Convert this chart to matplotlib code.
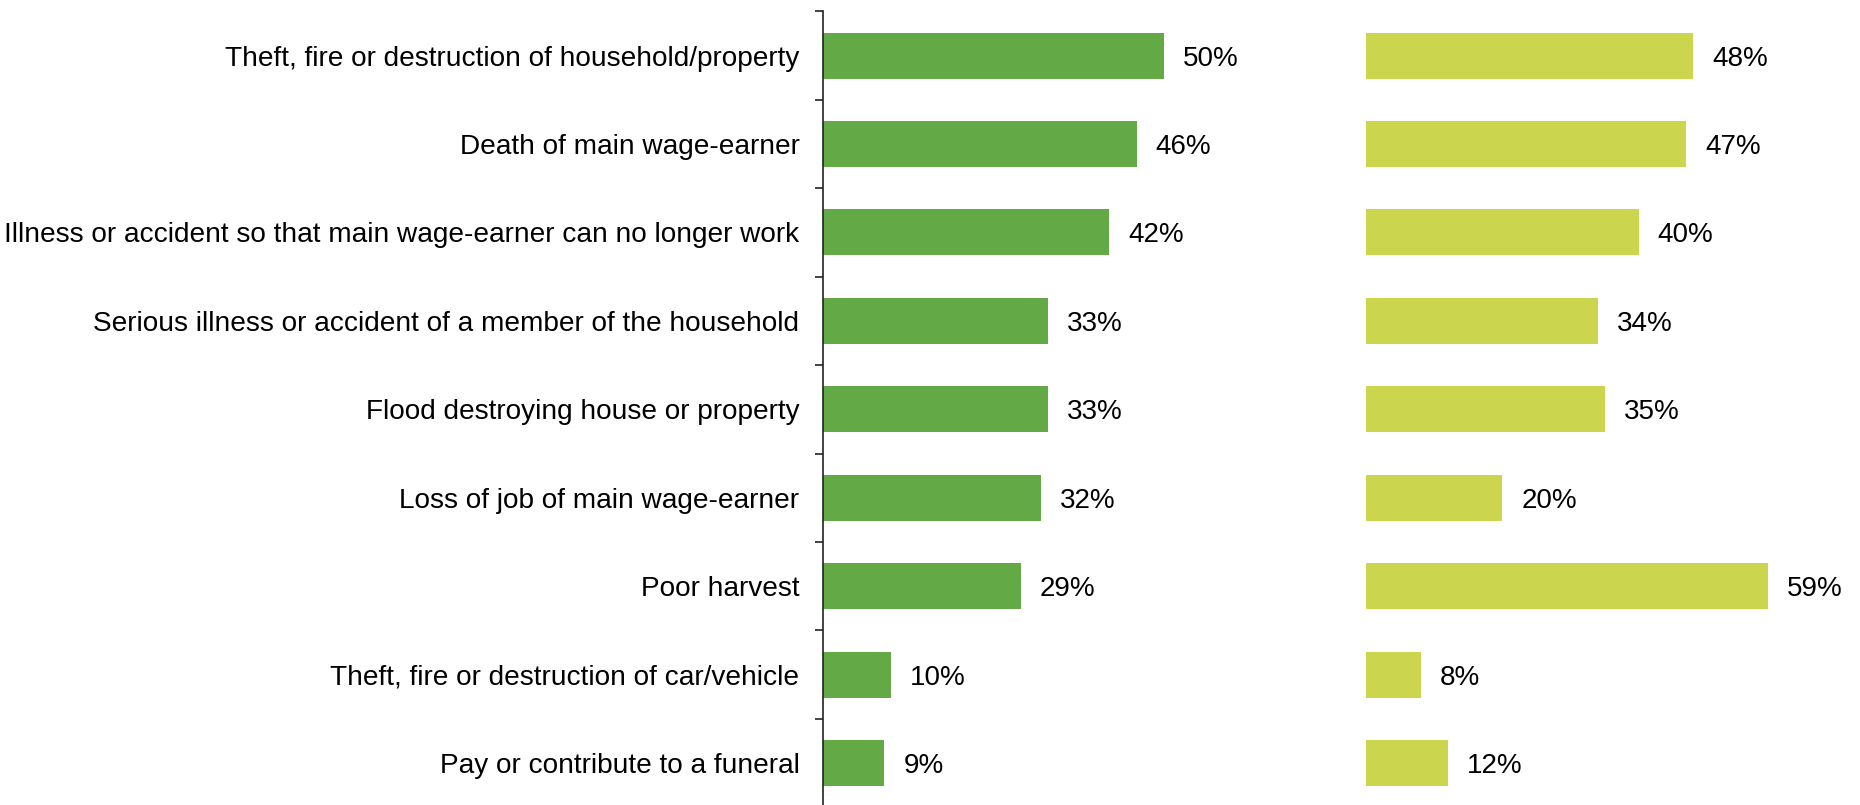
import numpy as np
import matplotlib.pyplot as plt

plt.rcParams['font.family'] = ['Liberation Sans', 'DejaVu Sans']

# Shock categories and shares for the two groups
categories = [
    'Theft, fire or destruction of household/property',
    'Death of main wage-earner',
    'Illness or accident so that main wage-earner can no longer work',
    'Serious illness or accident of a member of the household',
    'Flood destroying house or property',
    'Loss of job of main wage-earner',
    'Poor harvest',
    'Theft, fire or destruction of car/vehicle',
    'Pay or contribute to a funeral',
]
group_a = [50, 46, 42, 33, 33, 32, 29, 10, 9]
group_b = [48, 47, 40, 34, 35, 20, 59, 8, 12]

green = '#63aa47'
yellow = '#cbd64e'

fig = plt.figure(figsize=(18.6, 8.05), dpi=100)
ax1 = fig.add_axes([0.4425, -0.003, 0.22, 0.989])
ax2 = fig.add_axes([0.7344, -0.003, 0.2566, 0.989])

y = np.arange(len(categories))

ax1.barh(y, group_a, height=0.52, color=green)
ax2.barh(y, group_b, height=0.52, color=yellow)

for ax, vals, xmax in [(ax1, group_a, 60), (ax2, group_b, 70)]:
    ax.set_xlim(0, xmax)
    ax.set_ylim(len(categories) - 0.5, -0.5)
    ax.set_xticks([])
    for s in ['top', 'right', 'bottom']:
        ax.spines[s].set_visible(False)
    for yi, v in zip(y, vals):
        ax.text(v + 2.8, yi, f'{v}%', va='center_baseline', ha='left', fontsize=20)

# category labels with boundary ticks on the left axis
ax1.set_yticks(y)
ax1.set_yticklabels(categories, fontsize=20.2)
ax1.tick_params(axis='y', which='major', length=0, pad=17)
ax1.set_yticks(np.arange(len(categories) + 1) - 0.5, minor=True)
ax1.tick_params(axis='y', which='minor', length=6, width=1.2, color='#222222')
ax1.spines['left'].set_color('#222222')
ax1.spines['left'].set_linewidth(1.2)

ax2.set_yticks([])
ax2.spines['left'].set_visible(False)

fig.savefig('out.png', dpi=100)
